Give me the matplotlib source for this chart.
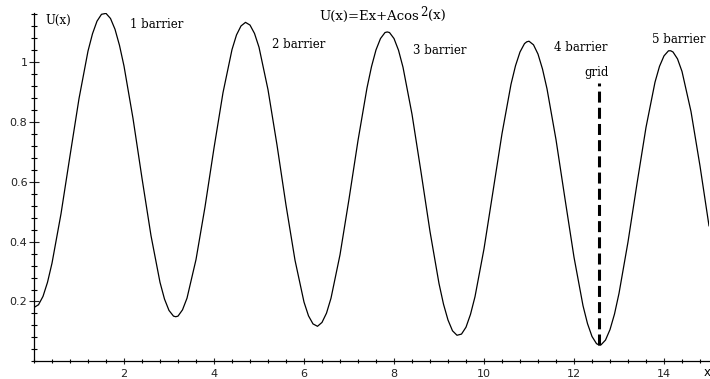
import matplotlib
matplotlib.use('Agg')
import matplotlib.pyplot as plt
from matplotlib.ticker import MultipleLocator

# curve U(x)
x_vals = [0.0, 0.1, 0.2, 0.3, 0.4, 0.6, 0.8, 1.0, 1.2, 1.3, 1.4, 1.5, 1.6, 1.7, 1.8, 1.9,
          2.0, 2.2, 2.4, 2.6, 2.8, 2.9, 3.0, 3.1, 3.15, 3.2, 3.3, 3.4, 3.6, 3.8,
          4.0, 4.2, 4.4, 4.5, 4.6, 4.7, 4.8, 4.9, 5.0, 5.2, 5.4, 5.6, 5.8,
          6.0, 6.1, 6.2, 6.3, 6.4, 6.5, 6.6, 6.8, 7.0, 7.2, 7.4, 7.5, 7.6, 7.7, 7.8, 7.85, 7.9,
          8.0, 8.1, 8.2, 8.4, 8.6, 8.8, 9.0, 9.1, 9.2, 9.3, 9.4, 9.5, 9.6, 9.7, 9.8,
          10.0, 10.2, 10.4, 10.6, 10.7, 10.8, 10.9, 10.95, 11.0, 11.1, 11.2, 11.3, 11.4, 11.6, 11.8,
          12.0, 12.2, 12.3, 12.4, 12.5, 12.55, 12.6, 12.7, 12.8, 12.9, 13.0, 13.2, 13.4, 13.6, 13.8,
          13.9, 14.0, 14.1, 14.15, 14.2, 14.3, 14.4, 14.6, 14.8, 15.0]
u_vals = [0.180, 0.189, 0.217, 0.264, 0.328, 0.493, 0.687, 0.878, 1.037, 1.095, 1.137, 1.160, 1.163, 1.146, 1.110, 1.056,
          0.987, 0.812, 0.612, 0.420, 0.264, 0.208, 0.170, 0.151, 0.149, 0.151, 0.172, 0.211, 0.340, 0.516,
          0.713, 0.898, 1.042, 1.091, 1.121, 1.133, 1.124, 1.096, 1.050, 0.908, 0.723, 0.522, 0.338,
          0.198, 0.152, 0.125, 0.117, 0.130, 0.161, 0.211, 0.356, 0.542, 0.738, 0.914, 0.985, 1.041, 1.079, 1.099, 1.101, 1.099,
          1.079, 1.040, 0.983, 0.826, 0.633, 0.434, 0.260, 0.191, 0.138, 0.102, 0.087, 0.091, 0.114, 0.157, 0.216,
          0.376, 0.568, 0.761, 0.926, 0.988, 1.034, 1.062, 1.068, 1.070, 1.058, 1.027, 0.977, 0.911, 0.741, 0.543,
          0.348, 0.186, 0.126, 0.083, 0.059, 0.055, 0.055, 0.071, 0.106, 0.158, 0.227, 0.399, 0.594, 0.782, 0.933,
          0.986, 1.021, 1.038, 1.038, 1.034, 1.011, 0.969, 0.835, 0.653, 0.453]

# dashed "grid" marker
grid_x = [12.566, 12.566]
grid_y = [0.055, 0.93]

barrier_labels = ['1 barrier', '2 barrier', '3 barrier', '4 barrier', '5 barrier']
title_parts = ['U(x)=Ex+Acos', '2', '(x)']
x_ticks = [2, 4, 6, 8, 10, 12, 14]
y_ticks = [0.2, 0.4, 0.6, 0.8, 1.0]
y_tick_labels = ['0.2', '0.4', '0.6', '0.8', '1']

serif = 'DejaVu Serif'

fig = plt.figure(figsize=(7.1, 3.79), dpi=100)
ax = fig.add_axes([34 / 710, 17.7 / 379, 675 / 710, 348.5 / 379])

ax.plot(x_vals, u_vals, color='black', lw=0.9)
ax.plot(grid_x, grid_y, color='black', lw=2.2, dashes=(3.6, 1.7))

ax.set_xlim(0, 15)
ax.set_ylim(0, 1.165)
for side in ['top', 'right']:
    ax.spines[side].set_visible(False)
for side in ['left', 'bottom']:
    ax.spines[side].set_linewidth(0.9)

ax.set_xticks(x_ticks)
ax.set_yticks(y_ticks)
ax.set_yticklabels(y_tick_labels)
ax.xaxis.set_minor_locator(MultipleLocator(0.4))
ax.yaxis.set_minor_locator(MultipleLocator(0.04))
ax.tick_params(which='major', direction='inout', width=0.8,
               labelsize=8, colors='#222222')
ax.tick_params(axis='x', which='major', length=4.5, pad=3.5)
ax.tick_params(axis='y', which='major', length=6.5, pad=1.5)
ax.tick_params(axis='x', which='minor', direction='inout', length=2.8, width=0.8)
ax.tick_params(axis='y', which='minor', direction='inout', length=3.8, width=0.8)
for lab in ax.get_xticklabels() + ax.get_yticklabels():
    lab.set_family('DejaVu Sans')

ax.text(0.25, 1.14, 'U(x)', fontsize=8.5, family=serif, va='center')
ax.text(2.13, 1.125, barrier_labels[0], fontsize=8.5, family=serif, va='center')
ax.text(5.29, 1.06, barrier_labels[1], fontsize=8.5, family=serif, va='center')
ax.text(8.42, 1.04, barrier_labels[2], fontsize=8.5, family=serif, va='center')
ax.text(11.55, 1.05, barrier_labels[3], fontsize=8.5, family=serif, va='center')
ax.text(13.74, 1.075, barrier_labels[4], fontsize=8.5, family=serif, va='center')
ax.text(12.22, 0.965, 'grid', fontsize=8.5, family=serif, va='center')

# title in pieces so the exponent keeps a large size
renderer = fig.canvas.get_renderer()
x_px = 319
t1 = fig.text(x_px / 710, 1 - 16 / 379, title_parts[0], fontsize=9.5,
              family=serif, ha='left', va='center')
x_px = t1.get_window_extent(renderer).x1 + 1
t2 = fig.text(x_px / 710, 1 - 13 / 379, title_parts[1], fontsize=8.5,
              family=serif, ha='left', va='center')
x_px = t2.get_window_extent(renderer).x1 + 1
fig.text(x_px / 710, 1 - 16 / 379, title_parts[2], fontsize=9.5,
         family=serif, ha='left', va='center')

fig.text(704 / 710, 1 - 373 / 379, 'x', fontsize=8.5, family='DejaVu Sans',
         ha='left', va='center')

fig.savefig('out.png', dpi=100)
